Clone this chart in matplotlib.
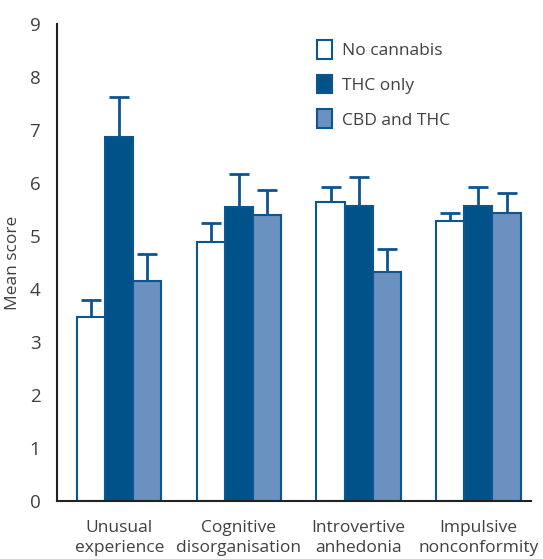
import numpy as np
import matplotlib.pyplot as plt

plt.rcParams['font.family'] = ['Open Sans', 'DejaVu Sans']

categories = ['Unusual\nexperience', 'Cognitive\ndisorganisation',
              'Introvertive\nanhedonia', 'Impulsive\nnonconformity']
groups = ['No cannabis', 'THC only', 'CBD and THC']

no_cannabis = [3.47, 4.89, 5.64, 5.28]
no_cannabis_err = [0.32, 0.36, 0.28, 0.15]
thc_only = [6.87, 5.55, 5.57, 5.57]
thc_only_err = [0.75, 0.62, 0.54, 0.35]
cbd_thc = [4.15, 5.40, 4.32, 5.43]
cbd_thc_err = [0.51, 0.47, 0.43, 0.38]

edge = '#0b5592'
fills = ['white', '#02528a', '#6a91bf']
text_col = '#404040'

fig = plt.figure(figsize=(5.43, 5.59), dpi=100)
ax = fig.add_axes([0.105, 0.104, 0.873, 0.853])

x = np.arange(len(categories))
w = 0.235
series = [(no_cannabis, no_cannabis_err), (thc_only, thc_only_err), (cbd_thc, cbd_thc_err)]
for i, (vals, errs) in enumerate(series):
    pos = x + (i - 1) * w
    ax.bar(pos, vals, w, color=fills[i], edgecolor=edge, linewidth=1.5,
           label=groups[i], zorder=2)
    ax.errorbar(pos, vals, yerr=[np.zeros(len(errs)), errs], fmt='none',
                ecolor=edge, elinewidth=2, capsize=7, capthick=2, zorder=1)

ax.set_xlim(-0.52, 3.44)
ax.set_ylim(0, 9)
ax.set_yticks(range(0, 10))
ax.set_xticks(x)
ax.set_xticklabels(categories, fontsize=12.5, color=text_col, linespacing=1.3)
ax.tick_params(axis='y', length=0, labelsize=13.5, labelcolor=text_col, pad=12)
ax.tick_params(axis='x', length=0, pad=14)
ax.set_ylabel('Mean score', fontsize=12.5, color=text_col, labelpad=6)

for s in ['top', 'right']:
    ax.spines[s].set_visible(False)
ax.spines['left'].set_linewidth(1.5)
ax.spines['bottom'].set_linewidth(1.5)
ax.spines['left'].set_color('#222222')
ax.spines['bottom'].set_color('#222222')

leg = ax.legend(loc='upper left', bbox_to_anchor=(0.515, 1.0), frameon=False,
                fontsize=12.5, handlelength=0.85, handleheight=1.3,
                labelspacing=0.9, handletextpad=0.6)
for t in leg.get_texts():
    t.set_color(text_col)

fig.savefig('out.png', dpi=100)
